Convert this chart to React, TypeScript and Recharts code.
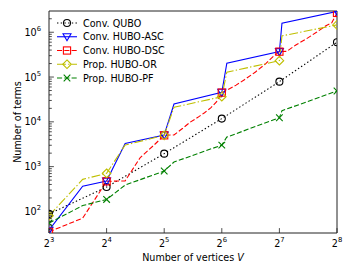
import { Legend, Line, LineChart, ReferenceArea, XAxis, YAxis } from "recharts";

const FONT = "'DejaVu Sans', sans-serif";

// vertices V and number of terms
const quboV = [8, 16, 32, 64, 128, 256];
const quboTerms = [88, 350, 1950, 11800, 79000, 600000];

const ascV = [8, 12, 16, 20, 32, 36, 64, 68, 128, 132, 256];
const ascTerms = [38, 367, 475, 3300, 5100, 25000, 45600, 203000, 369000, 1590000, 2920000];

const dscV = [8, 12, 16, 20, 24, 28, 32, 36, 40, 44, 48, 52, 56, 60, 64, 68, 76, 84, 96, 108, 120, 128, 140, 156, 176, 200, 224, 240, 248, 256];
const dscTerms = [35, 71, 470, 480, 1600, 2900, 5000, 5100, 7200, 10000, 12600, 16000, 20500, 27800, 45000, 51000, 66000, 87000, 130000, 195000, 300000, 369000, 375000, 520000, 700000, 1000000, 1400000, 1610000, 2090000, 2700000];

const orV = [8, 12, 16, 20, 32, 36, 64, 68, 128, 132, 256];
const orTerms = [80, 520, 710, 3030, 5000, 21100, 36400, 128000, 232000, 830000, 1460000];

const pfV = [8, 12, 16, 20, 32, 36, 64, 68, 128, 132, 256];
const pfTerms = [55, 135, 185, 387, 800, 1265, 3030, 4570, 12360, 17700, 48800];

const xTicks = [8, 16, 32, 64, 128, 256];
const xTickExps = ["3", "4", "5", "6", "7", "8"];
const yMajorTicks = [100, 1000, 10000, 100000, 1000000];
const yTickExps = ["2", "3", "4", "5", "6"];
const yMinorSteps = [2, 3, 4, 5, 6, 7, 8, 9];

const X_MIN = 8;
const X_MAX = 256;
const Y_MIN = 33;
const Y_MAX = 2980000;

const yTicks = [
  ...yMajorTicks,
  ...[10, 100, 1000, 10000, 100000, 1000000].flatMap((d) => yMinorSteps.map((m) => m * d)),
]
  .filter((t) => t >= Y_MIN && t <= Y_MAX)
  .sort((a, b) => a - b);

type Shape = "circle" | "triDown" | "square" | "diamond" | "x";

const rows = (vs: number[], ns: number[]) => vs.map((v, i) => ({ v, n: ns[i] }));

const series = [
  { name: "Conv. QUBO", data: rows(quboV, quboTerms), color: "#000000", dash: "1.4 2.3", shape: "circle" as Shape },
  { name: "Conv. HUBO-ASC", data: rows(ascV, ascTerms), color: "#0000ff", dash: undefined, shape: "triDown" as Shape },
  { name: "Conv. HUBO-DSC", data: rows(dscV, dscTerms), color: "#ff0000", dash: "5.1 2.2", shape: "square" as Shape },
  { name: "Prop. HUBO-OR", data: rows(orV, orTerms), color: "#bfbf00", dash: "8.9 2.2 1.4 2.2", shape: "diamond" as Shape },
  { name: "Prop. HUBO-PF", data: rows(pfV, pfTerms), color: "#008000", dash: "5.1 2.2", shape: "x" as Shape },
];

const isPow2 = (v: number) => (v & (v - 1)) === 0;

function Marker({ shape, cx, cy, color }: { shape: Shape; cx: number; cy: number; color: string }) {
  const common = { fill: "none", stroke: color, strokeWidth: 1.1 };
  switch (shape) {
    case "circle":
      return <circle cx={cx} cy={cy} r={3.5} {...common} />;
    case "triDown":
      return <path d={`M${cx - 4},${cy - 3} L${cx + 4},${cy - 3} L${cx},${cy + 4} Z`} {...common} />;
    case "square":
      return <rect x={cx - 3.6} y={cy - 3.6} width={7.2} height={7.2} {...common} />;
    case "diamond":
      return <path d={`M${cx},${cy - 4.3} L${cx + 4.3},${cy} L${cx},${cy + 4.3} L${cx - 4.3},${cy} Z`} {...common} />;
    default:
      return (
        <path d={`M${cx - 3.3},${cy - 3.3} L${cx + 3.3},${cy + 3.3} M${cx - 3.3},${cy + 3.3} L${cx + 3.3},${cy - 3.3}`} {...common} />
      );
  }
}

const XTick = (props: any) => {
  const { x, y, index } = props;
  return (
    <g>
      <line x1={x} x2={x} y1={y} y2={y - 4.9} stroke="#222" strokeWidth={0.8} />
      <text x={x} y={y + 14} textAnchor="middle" fontSize={9.6} fill="#000" fontFamily={FONT}>
        <tspan>2</tspan>
        <tspan dy={-4.6} fontSize={6.8}>{xTickExps[index]}</tspan>
      </text>
    </g>
  );
};

const YTick = (props: any) => {
  const { x, y, payload } = props;
  const idx = yMajorTicks.indexOf(payload.value);
  const major = idx >= 0;
  return (
    <g>
      <line x1={x} x2={x + (major ? 4.9 : 2.8)} y1={y} y2={y} stroke="#222" strokeWidth={0.8} />
      {major && (
        <text x={x - 8} y={y + 3.5} textAnchor="end" fontSize={9.6} fill="#000" fontFamily={FONT}>
          <tspan>10</tspan>
          <tspan dy={-4.6} fontSize={6.8}>{yTickExps[idx]}</tspan>
        </text>
      )}
    </g>
  );
};

const XLabel = () => (
  <text x={193} y={261} textAnchor="middle" fontSize={9.6} fill="#000" fontFamily={FONT}>
    Number of vertices <tspan fontStyle="italic">V</tspan>
  </text>
);

const YLabel = () => (
  <text x={20.5} y={122} transform="rotate(-90, 20.5, 122)" textAnchor="middle" fontSize={9.6} fill="#000" fontFamily={FONT}>
    Number of terms
  </text>
);

const renderLegend = () => (
  <svg width={120} height={80} style={{ display: "block", overflow: "visible" }}>
    {series.map((s, i) => {
      const cy = 9 + i * 13.75;
      return (
        <g key={s.name}>
          <line x1={7} x2={27} y1={cy} y2={cy} stroke={s.color} strokeWidth={1.1} strokeDasharray={s.dash} />
          <Marker shape={s.shape} cx={17} cy={cy} color={s.color} />
          <text x={33} y={cy + 3.5} fontSize={9.6} fill="#000" fontFamily={FONT}>
            {s.name}
          </text>
        </g>
      );
    })}
  </svg>
);

export default function App() {
  return (
    <div style={{ position: "fixed", left: 0, top: 0, width: 351, height: 265, background: "#fff", fontFamily: FONT }}>
      <LineChart width={351} height={265} margin={{ top: 11, right: 14, bottom: 0, left: 0 }}>
        <defs>
          <clipPath id="plot-clip">
            <rect x={49} y={11} width={288} height={222} />
          </clipPath>
        </defs>
        <XAxis
          type="number"
          dataKey="v"
          scale="log"
          domain={[X_MIN, X_MAX]}
          ticks={xTicks}
          allowDataOverflow
          interval={0}
          axisLine={false}
          tickLine={false}
          tickSize={0}
          tickMargin={0}
          height={32}
          tick={<XTick />}
          label={<XLabel />}
        />
        <YAxis
          type="number"
          scale="log"
          domain={[Y_MIN, Y_MAX]}
          ticks={yTicks}
          allowDataOverflow
          interval={0}
          axisLine={false}
          tickLine={false}
          tickSize={0}
          tickMargin={0}
          width={49}
          tick={<YTick />}
          label={<YLabel />}
        />
        <ReferenceArea x1={X_MIN} x2={X_MAX} y1={Y_MIN} y2={Y_MAX} fill="none" stroke="#222" strokeWidth={1} ifOverflow="visible" />
        {series.map((s) => (
          <Line
            key={s.name}
            data={s.data}
            dataKey="n"
            name={s.name}
            type="linear"
            stroke={s.color}
            strokeWidth={1.1}
            strokeDasharray={s.dash}
            activeDot={false}
            isAnimationActive={false}
            dot={(p: any) =>
              isPow2(p.payload.v) ? (
                <g key={`${s.name}-${p.index}`} clipPath="url(#plot-clip)">
                  <Marker shape={s.shape} cx={p.cx} cy={p.cy} color={s.color} />
                </g>
              ) : (
                <g key={`${s.name}-${p.index}`} />
              )
            }
          />
        ))}
        <Legend
          content={renderLegend}
          layout="horizontal"
          verticalAlign="middle"
          align="center"
          wrapperStyle={{ left: 50, top: 14, width: 120, height: 80 }}
        />
      </LineChart>
    </div>
  );
}
